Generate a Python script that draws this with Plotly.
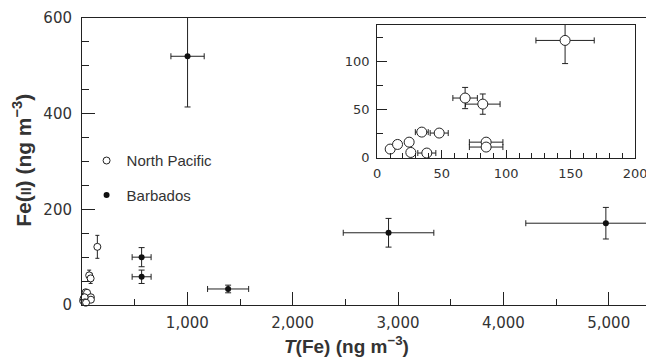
import plotly.graph_objects as go

# North Pacific (open circles)
np_x = [145.7, 68.2, 81.9, 34.6, 48.1, 84.5, 84.5, 10.1, 15.8, 24.8, 26.1, 38.5]
np_y = [121.6, 61.9, 55.6, 26.6, 25.6, 16.2, 11.1, 9.0, 13.8, 16.2, 5.5, 4.9]
np_xerr = [22.6, 9.5, 13.4, 5, 7, 13, 13, 0, 0, 0, 0, 7]
np_yerr = [24, 11, 10.5, 0, 0, 0, 0, 0, 0, 0, 0, 0]

# Barbados (filled dots)
b_x = [1002, 566, 566, 1387, 2910, 4973]
b_y = [520, 100, 59, 33.5, 151, 171]
b_xerr = [158, 90, 90, 195, 430, 760]
b_yerr = [106, 20, 14, 8, 30, 33]

main_xticks = [1000, 2000, 3000, 4000, 5000]
main_xlabels = ["1,000", "2,000", "3,000", "4,000", "5,000"]
main_yticks = [0, 200, 400, 600]
inset_xticks = [0, 50, 100, 150, 200]
inset_yticks = [0, 50, 100]

INK = "#222222"
TXT = "#333333"
TICKFONT = dict(family="DejaVu Sans", size=15, color=TXT)
INSETFONT = dict(family="DejaVu Sans", size=13, color=TXT)

fig = go.Figure()

def err(arr, w):
    return dict(type="data", array=arr, color=INK, thickness=1, width=w, visible=True)

fig.add_trace(go.Scatter(
    x=np_x, y=np_y, mode="markers", name="North Pacific", legendgroup="np",
    marker=dict(symbol="circle", size=7, color="white", line=dict(color=INK, width=1)),
    error_x=err(np_xerr, 2), error_y=err(np_yerr, 2), cliponaxis=False,
    xaxis="x", yaxis="y"))
fig.add_trace(go.Scatter(
    x=b_x, y=b_y, mode="markers", name="Barbados", legendgroup="b",
    marker=dict(symbol="circle", size=6, color="#111111"),
    error_x=err(b_xerr, 3), error_y=err(b_yerr, 3), cliponaxis=True,
    xaxis="x", yaxis="y"))
fig.add_trace(go.Scatter(
    x=np_x, y=np_y, mode="markers", showlegend=False,
    marker=dict(symbol="circle", size=10, color="white", line=dict(color=INK, width=1)),
    error_x=err(np_xerr, 3), error_y=err(np_yerr, 3), cliponaxis=False,
    xaxis="x2", yaxis="y2"))

axis_common = dict(showline=True, linecolor=INK, linewidth=1, showgrid=False,
                   zeroline=False, ticks="inside", tickcolor=INK, tickwidth=1,
                   automargin=False)

# The page body has an 8px margin; the figure is sized/offset to compensate.
fig.update_layout(
    width=646, height=351,
    margin=dict(l=74, r=0, t=10, b=54),
    paper_bgcolor="white", plot_bgcolor="white",
    xaxis=dict(axis_common, domain=[0, 1], range=[0, 5430], mirror=True,
               tickmode="array", tickvals=main_xticks, ticktext=main_xlabels,
               ticklen=13, tickfont=TICKFONT, ticklabelstandoff=4,
               minor=dict(ticks="inside", dtick=500, tick0=0, ticklen=6,
                          tickcolor=INK, showgrid=False)),
    yaxis=dict(axis_common, domain=[0, 1], range=[0, 600],
               tickmode="array", tickvals=main_yticks,
               ticklen=13, tickfont=TICKFONT, ticklabelstandoff=6,
               minor=dict(ticks="inside", dtick=50, tick0=0, ticklen=7,
                          tickcolor=INK, showgrid=False)),
    xaxis2=dict(axis_common, domain=[0.516, 0.967], anchor="y2", range=[0, 200],
                mirror=True, tickmode="array", tickvals=inset_xticks,
                ticklen=8, tickfont=INSETFONT, ticklabelstandoff=4,
                minor=dict(ticks="inside", dtick=10, tick0=0, ticklen=5,
                           tickcolor=INK, showgrid=False)),
    yaxis2=dict(axis_common, domain=[0.513, 0.977], anchor="x2", range=[0, 138],
                mirror=True, tickmode="array", tickvals=inset_yticks,
                ticklen=10, tickfont=INSETFONT, ticklabelstandoff=4,
                minor=dict(ticks="inside", dtick=25, tick0=0, ticklen=6,
                           tickcolor=INK, showgrid=False)),
    legend=dict(x=0.008, y=0.56, xanchor="left", yanchor="top",
                bgcolor="rgba(0,0,0,0)", tracegroupgap=12,
                font=dict(family="Liberation Sans", size=15, color=TXT),
                itemwidth=30),
    annotations=[
        dict(xref="paper", yref="paper", x=0.463, y=-0.138, xanchor="center", yanchor="middle",
             showarrow=False,
             text="<b><i>T</i>(Fe) (ng m<sup>−3</sup>)</b>",
             font=dict(family="Liberation Sans", size=19, color=TXT)),
        dict(xref="paper", yref="paper", x=-0.105, y=0.506, xanchor="center", yanchor="middle",
             showarrow=False, textangle=-90,
             text="<b>Fe(<span style='font-size:14px'>II</span>) (ng m<sup>−3</sup>)</b>",
             font=dict(family="Liberation Sans", size=21, color=TXT)),
    ],
)

fig.write_html("out.html")
